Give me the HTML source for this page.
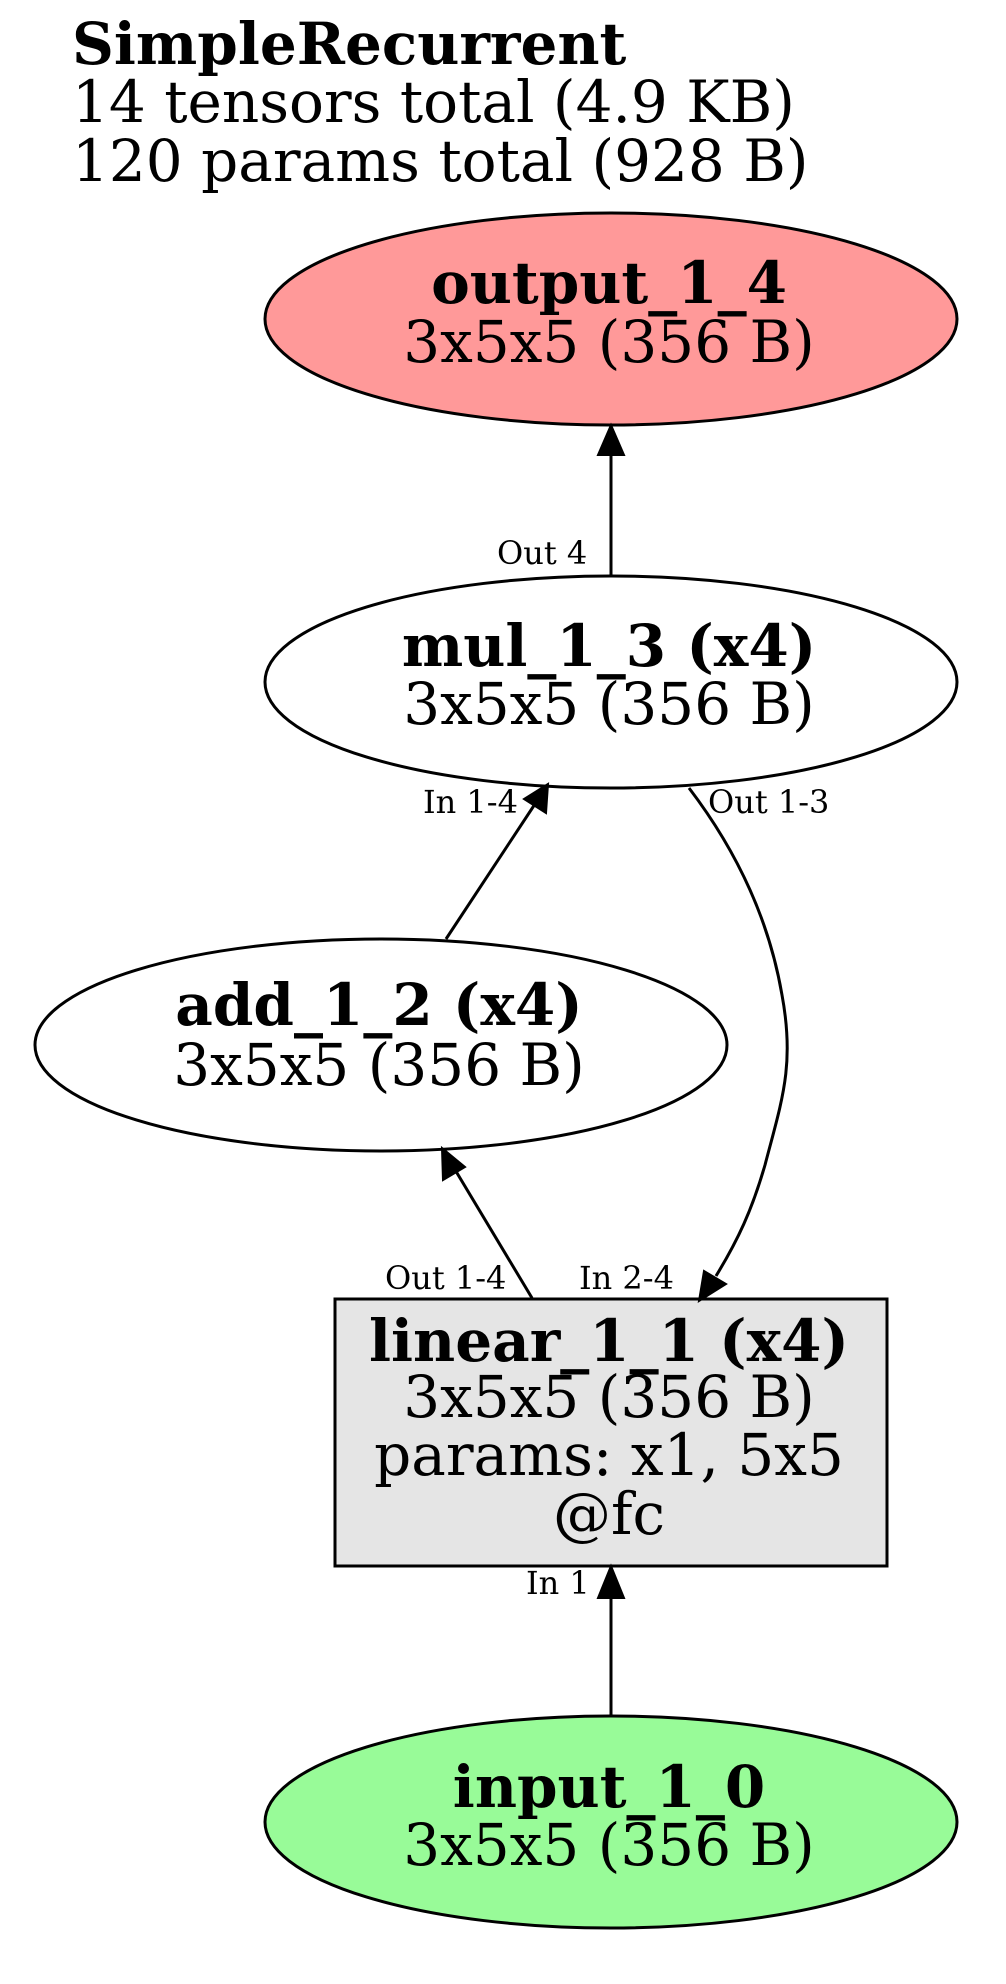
<!DOCTYPE html>
<html><head><meta charset="utf-8"><style>
html,body{margin:0;padding:0;background:#fff;}
svg{display:block;}
text{font-family:"DejaVu Serif","Liberation Serif",serif;fill:#000;}
.t{font-size:58px;}
.b{font-weight:bold;}
.s{font-size:32px;}
</style></head><body>
<svg width="1006" height="1984" viewBox="0 0 1006 1984" xmlns="http://www.w3.org/2000/svg">
<rect width="1006" height="1984" fill="#fff"/>
<text class="t b" x="72" y="64">SimpleRecurrent</text>
<text class="t" x="72" y="122">14 tensors total (4.9 KB)</text>
<text class="t" x="72" y="181">120 params total (928 B)</text>

<g stroke="#000" stroke-width="3">
<ellipse cx="611" cy="319" rx="346" ry="106" fill="#ff9999"/>
<ellipse cx="611" cy="682" rx="346" ry="106" fill="#fff"/>
<ellipse cx="381" cy="1045" rx="346" ry="106" fill="#fff"/>
<rect x="335" y="1299" width="552" height="267" fill="#e5e5e5"/>
<ellipse cx="611" cy="1822" rx="346" ry="106" fill="#98fb98"/>
<g fill="none">
<line x1="611" y1="576" x2="611" y2="452"/>
<line x1="446" y1="939" x2="535" y2="804"/>
<path d="M689,788 C740,855 770,925 782,995 C795,1065 782,1100 765,1165 C752,1210 738,1240 716,1276"/>
<line x1="532" y1="1298" x2="454" y2="1168"/>
<line x1="611" y1="1716" x2="611" y2="1594"/>
</g>
<g fill="#000" stroke-width="2">
<polygon points="611,425 598,455 624,455"/>
<polygon points="548,784 524,799 546,813"/>
<polygon points="699,1301 704,1271 726,1284"/>
<polygon points="442,1148 443,1180 465,1167"/>
<polygon points="611,1566 598,1598 624,1598"/>
</g>
</g>

<g text-anchor="middle">
<text class="t b" x="609" y="303">output_1_4</text>
<text class="t" x="609" y="362">3x5x5 (356 B)</text>
<text class="t b" x="609" y="666">mul_1_3 (x4)</text>
<text class="t" x="609" y="724">3x5x5 (356 B)</text>
<text class="t b" x="379" y="1025">add_1_2 (x4)</text>
<text class="t" x="379" y="1085">3x5x5 (356 B)</text>
<text class="t b" x="609" y="1361">linear_1_1 (x4)</text>
<text class="t" x="609" y="1417">3x5x5 (356 B)</text>
<text class="t" x="609" y="1475">params: x1, 5x5</text>
<text class="t" x="609" y="1534">@fc</text>
<text class="t b" x="609" y="1807">input_1_0</text>
<text class="t" x="609" y="1865">3x5x5 (356 B)</text>
</g>

<text class="s" x="497" y="564">Out 4</text>
<text class="s" x="423" y="813">In 1-4</text>
<text class="s" x="708" y="813">Out 1-3</text>
<text class="s" x="385" y="1289">Out 1-4</text>
<text class="s" x="579" y="1289">In 2-4</text>
<text class="s" x="526" y="1594">In 1</text>
</svg>
</body></html>
